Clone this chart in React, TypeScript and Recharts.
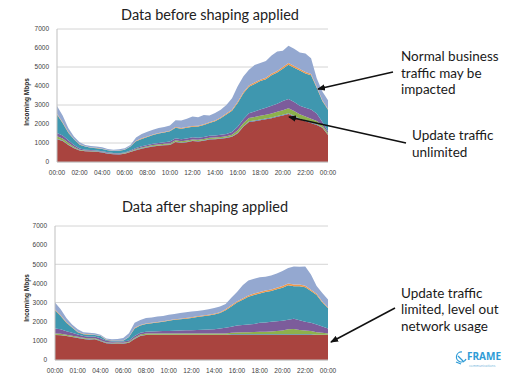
import React from "react";
import { AreaChart, Area, XAxis, YAxis, CartesianGrid } from "recharts";

// half-hour slots, 00:00 .. 24:00
const times = [
  "00:00", "00:30", "01:00", "01:30", "02:00", "02:30", "03:00", "03:30",
  "04:00", "04:30", "05:00", "05:30", "06:00", "06:30", "07:00", "07:30",
  "08:00", "08:30", "09:00", "09:30", "10:00", "10:30", "11:00", "11:30",
  "12:00", "12:30", "13:00", "13:30", "14:00", "14:30", "15:00", "15:30",
  "16:00", "16:30", "17:00", "17:30", "18:00", "18:30", "19:00", "19:30",
  "20:00", "20:30", "21:00", "21:30", "22:00", "22:30", "23:00", "23:30",
  "24:00",
];

const topTicks = ["00:00", "02:00", "04:00", "06:00", "08:00", "10:00", "12:00", "14:00", "16:00", "18:00", "20:00", "22:00", "00:00"];
const bottomTicks = ["00:00", "01:00", "04:00", "06:00", "08:00", "10:00", "12:00", "14:00", "16:00", "18:00", "20:00", "22:00", "00:00"];
const yTicks = [0, 1000, 2000, 3000, 4000, 5000, 6000, 7000];

// before shaping (Mbps per traffic class)
const beforeRed = [1200, 1100, 900, 720, 600, 560, 550, 540, 500, 440, 410, 400, 430, 520, 620, 700, 760, 820, 850, 880, 900, 1050, 1000, 1040, 1100, 1080, 1120, 1180, 1200, 1220, 1260, 1330, 1500, 1850, 2100, 2150, 2200, 2250, 2300, 2380, 2450, 2520, 2400, 2250, 2150, 2050, 1950, 1800, 1420];
const beforeBlue = [30, 30, 25, 25, 20, 20, 20, 20, 20, 20, 20, 20, 20, 20, 25, 25, 25, 25, 25, 25, 25, 30, 30, 30, 30, 30, 30, 30, 30, 30, 30, 30, 35, 35, 40, 40, 40, 40, 40, 40, 40, 45, 40, 40, 40, 40, 35, 35, 30];
const beforeGreen = [120, 110, 90, 60, 30, 25, 20, 20, 20, 20, 15, 15, 20, 25, 35, 40, 45, 50, 50, 55, 55, 60, 60, 60, 60, 60, 60, 60, 60, 65, 70, 80, 130, 150, 170, 180, 190, 200, 210, 220, 230, 260, 240, 220, 200, 190, 170, 100, 70];
const beforePurple = [180, 160, 130, 90, 60, 45, 40, 30, 30, 30, 25, 25, 30, 35, 55, 60, 65, 70, 80, 85, 95, 110, 110, 110, 110, 110, 110, 110, 110, 115, 120, 140, 190, 220, 250, 290, 330, 370, 410, 420, 490, 490, 480, 450, 470, 480, 400, 170, 100];
const beforeTeal = [970, 650, 400, 300, 200, 160, 120, 120, 110, 110, 110, 130, 140, 210, 360, 390, 420, 450, 490, 510, 540, 550, 550, 560, 550, 590, 630, 670, 750, 870, 1020, 1120, 1250, 1350, 1400, 1450, 1500, 1500, 1600, 1650, 1700, 1800, 1800, 1850, 1800, 1800, 1350, 1100, 1130];
const beforeOrange = [40, 40, 30, 20, 20, 15, 15, 15, 15, 15, 15, 15, 15, 20, 25, 30, 30, 30, 30, 30, 30, 40, 40, 40, 40, 40, 40, 40, 40, 40, 50, 50, 60, 60, 70, 70, 70, 80, 80, 80, 90, 90, 90, 80, 80, 70, 60, 50, 40];
const beforeLight = [410, 360, 220, 130, 110, 65, 75, 65, 75, 55, 55, 65, 75, 60, 175, 230, 250, 250, 260, 260, 280, 360, 390, 440, 510, 440, 490, 360, 390, 410, 450, 600, 820, 840, 830, 930, 880, 870, 970, 1020, 860, 910, 910, 870, 970, 830, 440, 450, 460];

// after shaping
const afterRed = [1300, 1290, 1250, 1200, 1150, 1100, 1060, 1080, 980, 880, 850, 860, 850, 900, 1100, 1260, 1300, 1300, 1300, 1300, 1300, 1300, 1300, 1300, 1300, 1300, 1300, 1300, 1300, 1300, 1300, 1300, 1300, 1300, 1300, 1300, 1300, 1300, 1300, 1300, 1300, 1300, 1300, 1300, 1300, 1300, 1300, 1300, 1300];
const afterBlue = [20, 20, 20, 20, 20, 20, 20, 20, 20, 20, 20, 20, 20, 20, 20, 20, 20, 20, 20, 20, 20, 20, 20, 20, 20, 20, 20, 20, 20, 20, 20, 40, 40, 40, 40, 40, 40, 40, 40, 40, 40, 40, 40, 40, 40, 40, 20, 20, 20];
const afterGreen = [60, 60, 55, 50, 45, 40, 40, 40, 35, 30, 30, 30, 30, 35, 45, 55, 60, 60, 60, 60, 60, 60, 60, 60, 60, 60, 60, 60, 60, 65, 70, 80, 100, 110, 110, 120, 130, 140, 150, 170, 200, 260, 280, 230, 200, 180, 130, 100, 70];
const afterPurple = [270, 230, 175, 150, 115, 100, 100, 90, 95, 70, 60, 60, 60, 65, 85, 95, 100, 110, 120, 130, 140, 150, 160, 170, 180, 190, 200, 215, 230, 255, 290, 320, 360, 380, 400, 420, 480, 480, 510, 510, 510, 500, 530, 510, 460, 430, 400, 330, 260];
const afterTeal = [950, 700, 450, 280, 120, 90, 100, 70, 120, 50, 40, 30, 40, 180, 400, 370, 400, 430, 460, 490, 530, 570, 590, 610, 640, 680, 700, 725, 770, 810, 920, 1060, 1200, 1320, 1450, 1520, 1530, 1590, 1600, 1680, 1730, 1800, 1700, 1770, 1800, 1650, 1550, 1250, 1050];
const afterOrange = [40, 40, 30, 20, 20, 20, 20, 20, 20, 20, 20, 20, 20, 20, 30, 30, 30, 30, 30, 30, 30, 30, 30, 30, 30, 40, 40, 40, 40, 40, 50, 60, 60, 60, 70, 70, 70, 80, 80, 80, 90, 90, 90, 90, 80, 70, 60, 50, 40];
const afterLight = [360, 310, 220, 130, 130, 80, 80, 80, 50, 50, 60, 80, 130, 180, 270, 255, 280, 265, 285, 270, 290, 270, 290, 310, 310, 270, 280, 290, 300, 310, 270, 390, 490, 690, 780, 780, 770, 720, 740, 740, 780, 810, 940, 930, 1000, 800, 400, 450, 420];

const SERIES = [
  { key: "red", color: "#A9443F" },
  { key: "blue", color: "#4A7DBA" },
  { key: "green", color: "#8DB14C" },
  { key: "purple", color: "#7C5C9B" },
  { key: "teal", color: "#3F97AF" },
  { key: "orange", color: "#F0984A" },
  { key: "light", color: "#94A8D0" },
];

const buildRows = (cols: number[][]) =>
  times.map((t, i) => {
    const row: Record<string, string | number> = { t };
    SERIES.forEach((s, j) => (row[s.key] = cols[j][i]));
    return row;
  });

const beforeRows = buildRows([beforeRed, beforeBlue, beforeGreen, beforePurple, beforeTeal, beforeOrange, beforeLight]);
const afterRows = buildRows([afterRed, afterBlue, afterGreen, afterPurple, afterTeal, afterOrange, afterLight]);

const tickStyle = { fontSize: 6.5, fill: "#404040", fontFamily: "Liberation Sans, Arial, sans-serif" };

function TrafficChart({ rows, labels, axisWidth, plotHeight }: { rows: any[]; labels: string[]; axisWidth: number; plotHeight: number }) {
  return (
    <AreaChart width={340} height={29 + plotHeight + 28} data={rows} margin={{ top: 29, right: 12, bottom: 0, left: 0 }}>
      <CartesianGrid vertical={false} stroke="#D4D4D4" />
      <XAxis
        dataKey="t"
        height={28}
        interval={3}
        tickLine={false}
        axisLine={{ stroke: "#BFBFBF" }}
        tick={tickStyle}
        tickFormatter={(_v: any, i: number) => labels[i]}
      />
      <YAxis width={axisWidth} domain={[0, 7000]} ticks={yTicks} tickLine={false} axisLine={{ stroke: "#BFBFBF" }} tick={tickStyle} />
      {SERIES.map((s) => (
        <Area
          key={s.key}
          dataKey={s.key}
          stackId="1"
          type="linear"
          stroke="none"
          fill={s.color}
          fillOpacity={1}
          isAnimationActive={false}
        />
      ))}
    </AreaChart>
  );
}

const noteFont = "Lato, 'Open Sans', sans-serif";

export default function App() {
  return (
    <div style={{ position: "absolute", left: 0, top: 0, width: 510, height: 382, background: "#fff" }}>
      <div style={{ position: "absolute", left: 0, top: 0 }}>
        <TrafficChart rows={beforeRows} labels={topTicks} axisWidth={57} plotHeight={133} />
      </div>
      <div style={{ position: "absolute", left: 0, top: 197 }}>
        <TrafficChart rows={afterRows} labels={bottomTicks} axisWidth={55} plotHeight={134} />
      </div>
      <svg width={510} height={382} style={{ position: "absolute", left: 0, top: 0, pointerEvents: "none" }}>
        <defs>
          <marker id="arrow" markerUnits="userSpaceOnUse" markerWidth={8} markerHeight={8} refX={7} refY={4} orient="auto">
            <path d="M0,0.8 L8,4 L0,7.2 z" fill="#111" />
          </marker>
        </defs>
        <g fontFamily={noteFont} fill="#222">
          <text x={210} y={20} fontSize={14.5} textAnchor="middle">Data before shaping applied</text>
          <text x={205} y={212} fontSize={14.5} textAnchor="middle">Data after shaping applied</text>
        </g>
        <g fontFamily="Liberation Sans, Arial, sans-serif" fontSize={6.5} fontWeight="bold" fill="#222" textAnchor="middle">
          <text transform="translate(29,102) rotate(-90)">Incoming Mbps</text>
          <text transform="translate(29,298) rotate(-90)">Incoming Mbps</text>
        </g>
        <g fontFamily={noteFont} fontSize={13.5} fill="#1a1a1a">
          <text x={401} y={61}>Normal business</text>
          <text x={401} y={78}>traffic may be</text>
          <text x={401} y={94}>impacted</text>
          <text x={412} y={140}>Update traffic</text>
          <text x={412} y={157}>unlimited</text>
          <text x={401} y={298}>Update traffic</text>
          <text x={401} y={314}>limited, level out</text>
          <text x={401} y={331}>network usage</text>
        </g>
        <g stroke="#111" strokeWidth={1.5}>
          <line x1={393} y1={72} x2={318} y2={89} markerEnd="url(#arrow)" />
          <line x1={406} y1={143} x2={289} y2={117} markerEnd="url(#arrow)" />
          <line x1={395} y1={308} x2={331} y2={342} markerEnd="url(#arrow)" />
        </g>
        <g>
          <path d="M462,352 a5,5 0 1,0 4,7 M458,356 l6,6 M461,364 l-5,-2" fill="none" stroke="#2E9BD6" strokeWidth={1.2} />
          <text x={467} y={360} fontSize={10} fontWeight="bold" fill="#2E9BD6" fontFamily="'Open Sans', sans-serif">FRAME</text>
          <text x={469} y={366.5} fontSize={3.4} fill="#6AAFD9" fontFamily="'Open Sans', sans-serif">communications</text>
        </g>
      </svg>
    </div>
  );
}
